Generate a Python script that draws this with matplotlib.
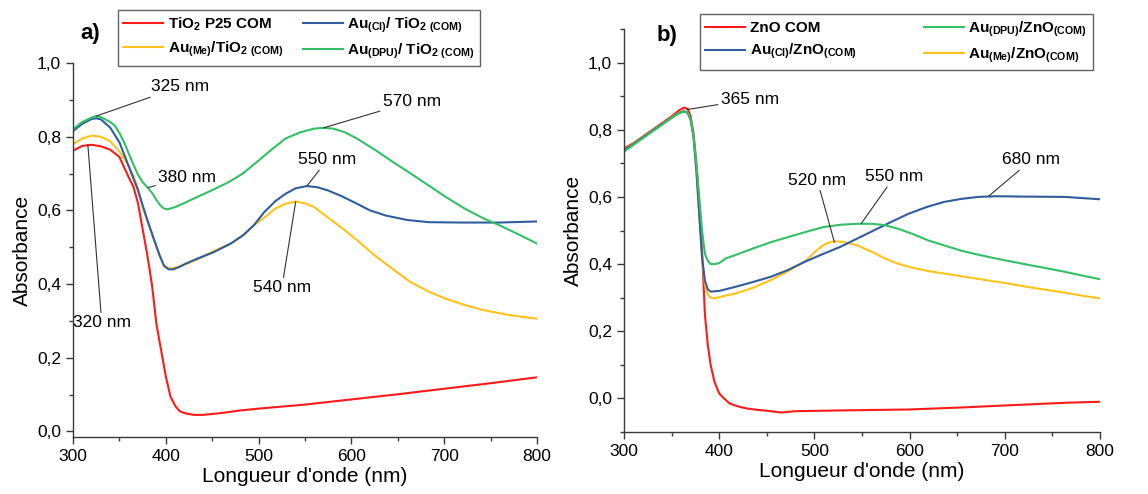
import matplotlib.pyplot as plt
import numpy as np
from matplotlib.ticker import MultipleLocator, FuncFormatter
from matplotlib.lines import Line2D

plt.rcParams['font.family'] = ['Liberation Sans', 'DejaVu Sans']
plt.rcParams['mathtext.default'] = 'regular'

# ---- panel a) TiO2 ----
wl_tio2 = [300, 310, 320, 330, 340, 350, 360, 365, 370, 375, 380, 385, 390, 395, 400, 405, 410, 415, 420,
           430, 440, 460, 480, 500, 550, 600, 650, 700, 750, 800]
abs_tio2 = [0.762, 0.775, 0.778, 0.774, 0.765, 0.745, 0.69, 0.665, 0.62, 0.55, 0.48, 0.40, 0.29, 0.22, 0.15,
            0.095, 0.07, 0.055, 0.05, 0.045, 0.045, 0.050, 0.057, 0.062, 0.073, 0.087, 0.101, 0.116, 0.131, 0.147]

wl_au_cl_tio2 = [300, 310, 320, 325, 330, 340, 350, 360, 370, 375, 380, 387, 393, 398, 403, 408, 415, 421, 435,
                 452, 470, 483, 495, 506, 518, 529, 540, 552, 563, 575, 590, 606, 620, 637, 660, 683, 720, 760, 800]
abs_au_cl_tio2 = [0.815, 0.835, 0.848, 0.85, 0.847, 0.825, 0.785, 0.72, 0.655, 0.614, 0.575, 0.523, 0.48, 0.45,
                  0.44, 0.44, 0.447, 0.455, 0.47, 0.487, 0.51, 0.532, 0.56, 0.595, 0.625, 0.645, 0.66, 0.666,
                  0.663, 0.654, 0.638, 0.618, 0.60, 0.586, 0.574, 0.568, 0.567, 0.567, 0.570]

wl_au_me_tio2 = [300, 310, 320, 330, 340, 350, 358, 364, 370, 375, 381, 387, 393, 398, 403, 408, 420, 435, 452,
                 470, 485, 495, 506, 518, 529, 540, 550, 560, 575, 591, 608, 625, 645, 664, 683, 702, 720, 741,
                 770, 800]
abs_au_me_tio2 = [0.78, 0.795, 0.803, 0.80, 0.788, 0.76, 0.73, 0.7, 0.66, 0.61, 0.565, 0.523, 0.48, 0.45,
                  0.443, 0.443, 0.452, 0.468, 0.49, 0.51, 0.535, 0.56, 0.58, 0.605, 0.618, 0.624, 0.619, 0.609,
                  0.58, 0.55, 0.515, 0.478, 0.44, 0.405, 0.38, 0.36, 0.345, 0.33, 0.316, 0.306]

wl_au_dpu_tio2 = [300, 310, 320, 325, 330, 340, 345, 350, 355, 360, 365, 370, 375, 380, 385, 390, 394, 398, 402,
                  410, 420, 437, 450, 468, 483, 498, 514, 529, 545, 560, 570, 580, 593, 606, 625, 645, 664, 683,
                  702, 722, 741, 760, 780, 800]
abs_au_dpu_tio2 = [0.82, 0.84, 0.852, 0.856, 0.853, 0.84, 0.83, 0.81, 0.785, 0.755, 0.725, 0.697, 0.677, 0.663,
                   0.648, 0.628, 0.614, 0.605, 0.603, 0.609, 0.62, 0.64, 0.655, 0.677, 0.70, 0.731, 0.765,
                   0.795, 0.812, 0.822, 0.824, 0.822, 0.812, 0.795, 0.765, 0.731, 0.70, 0.668, 0.636, 0.605,
                   0.58, 0.559, 0.535, 0.51]

# ---- panel b) ZnO ----
wl_zno = [300, 310, 320, 330, 340, 350, 358, 363, 367, 370, 373, 376, 379, 382, 385, 388, 391, 395, 400, 405,
          411, 420, 429, 440, 451, 465, 480, 501, 545, 599, 654, 708, 763, 800]
abs_zno = [0.745, 0.76, 0.78, 0.80, 0.82, 0.84, 0.858, 0.866, 0.862, 0.84, 0.79, 0.70, 0.58, 0.44, 0.25, 0.16,
           0.10, 0.05, 0.015, 0.0, -0.015, -0.024, -0.03, -0.034, -0.037, -0.042, -0.038, -0.037, -0.035,
           -0.033, -0.027, -0.02, -0.013, -0.01]

wl_au_dpu_zno = [300, 310, 320, 330, 340, 350, 358, 363, 367, 370, 373, 376, 379, 382, 385, 388, 391, 395, 400,
                 407, 420, 436, 454, 472, 490, 509, 527, 545, 560, 574, 588, 603, 620, 637, 654, 672, 690, 708,
                 726, 745, 763, 781, 800]
abs_au_dpu_zno = [0.735, 0.755, 0.775, 0.795, 0.815, 0.835, 0.85, 0.855, 0.85, 0.83, 0.78, 0.70, 0.60, 0.50,
                  0.43, 0.41, 0.40, 0.40, 0.403, 0.417, 0.43, 0.447, 0.465, 0.48, 0.495, 0.51, 0.517, 0.52,
                  0.52, 0.516, 0.505, 0.49, 0.47, 0.455, 0.44, 0.428, 0.417, 0.407, 0.397, 0.387, 0.377,
                  0.366, 0.355]

wl_au_cl_zno = [300, 310, 320, 330, 340, 350, 358, 363, 367, 370, 373, 376, 379, 382, 385, 388, 391, 400, 418,
                436, 454, 472, 490, 509, 527, 545, 563, 581, 599, 618, 636, 654, 672, 690, 720, 763, 800]
abs_au_cl_zno = [0.74, 0.757, 0.777, 0.797, 0.817, 0.836, 0.85, 0.855, 0.85, 0.83, 0.78, 0.68, 0.55, 0.42,
                 0.35, 0.325, 0.318, 0.32, 0.333, 0.347, 0.362, 0.382, 0.407, 0.43, 0.451, 0.476, 0.501,
                 0.526, 0.55, 0.57, 0.585, 0.594, 0.60, 0.602, 0.601, 0.60, 0.593]

wl_au_me_zno = [300, 310, 320, 330, 340, 350, 358, 363, 367, 370, 373, 376, 379, 382, 385, 388, 391, 395, 405,
                418, 436, 454, 470, 480, 490, 500, 509, 516, 523, 530, 545, 560, 574, 586, 599, 618, 636, 654,
                672, 690, 708, 726, 744, 763, 781, 800]
abs_au_me_zno = [0.742, 0.758, 0.778, 0.798, 0.818, 0.837, 0.851, 0.856, 0.851, 0.83, 0.78, 0.68, 0.55, 0.42,
                 0.34, 0.31, 0.30, 0.298, 0.305, 0.313, 0.33, 0.352, 0.375, 0.392, 0.407, 0.435, 0.456, 0.465,
                 0.468, 0.466, 0.456, 0.437, 0.417, 0.403, 0.392, 0.38, 0.372, 0.364, 0.356, 0.348, 0.34,
                 0.331, 0.323, 0.315, 0.306, 0.298]

red = '#ff1a1a'
blue = '#2f5d9e'
yellow = '#ffc21a'
green = '#33c065'
edge = '#3a3a3a'


def comma(v, pos):
    return ('%.1f' % v).replace('.', ',')


def style(ax):
    for s in ['top', 'right']:
        ax.spines[s].set_visible(False)
    for s in ['left', 'bottom']:
        ax.spines[s].set_color(edge)
        ax.spines[s].set_linewidth(1.0)
    ax.set_xlim(300, 800)
    ax.xaxis.set_major_locator(MultipleLocator(100))
    ax.xaxis.set_minor_locator(MultipleLocator(50))
    ax.yaxis.set_major_locator(MultipleLocator(0.2))
    ax.yaxis.set_minor_locator(MultipleLocator(0.1))
    ax.yaxis.set_major_formatter(FuncFormatter(comma))
    ax.tick_params(which='major', length=5, width=1, color=edge, labelsize=12.5, direction='out')
    ax.tick_params(which='minor', length=3, width=1, color=edge, direction='out')
    ax.set_xlabel("Longueur d'onde (nm)", fontsize=15, labelpad=2)
    ax.set_ylabel('Absorbance', fontsize=15, labelpad=4)


def note(ax, txt, xy, xyt):
    ax.annotate(txt, xy=xy, xytext=xyt, textcoords='data', ha='center', va='center', fontsize=12.5,
                annotation_clip=False,
                arrowprops=dict(arrowstyle='-', color='#333333', lw=0.8, shrinkA=0, shrinkB=0))


fig = plt.figure(figsize=(11.48, 4.94), dpi=100)
ax1 = fig.add_axes([73 / 1148, 57 / 494, 464 / 1148, 374 / 494])
ax2 = fig.add_axes([624 / 1148, 62 / 494, 476 / 1148, 403 / 494])

lw = 1.5
ax1.plot(wl_tio2, abs_tio2, color=red, lw=lw)
ax1.plot(wl_au_me_tio2, abs_au_me_tio2, color=yellow, lw=lw)
ax1.plot(wl_au_cl_tio2, abs_au_cl_tio2, color=blue, lw=lw)
ax1.plot(wl_au_dpu_tio2, abs_au_dpu_tio2, color=green, lw=lw)
style(ax1)
ax1.set_ylim(-0.015, 1.0)

note(ax1, '325 nm', (325, 0.856), (415, 0.935))
note(ax1, '570 nm', (570, 0.824), (665, 0.895))
note(ax1, '380 nm', (381, 0.662), (423, 0.69))
note(ax1, '550 nm', (552, 0.666), (574, 0.737))
note(ax1, '540 nm', (540, 0.624), (525, 0.39))
note(ax1, '320 nm', (316, 0.778), (331, 0.295))

ax2.plot(wl_zno, abs_zno, color=red, lw=lw)
ax2.plot(wl_au_me_zno, abs_au_me_zno, color=yellow, lw=lw)
ax2.plot(wl_au_cl_zno, abs_au_cl_zno, color=blue, lw=lw)
ax2.plot(wl_au_dpu_zno, abs_au_dpu_zno, color=green, lw=lw)
style(ax2)
ax2.set_ylim(-0.1, 1.1)

note(ax2, '365 nm', (366, 0.86), (432, 0.89))
note(ax2, '680 nm', (683, 0.602), (728, 0.71))
note(ax2, '550 nm', (549, 0.52), (584, 0.66))
note(ax2, '520 nm', (521, 0.465), (503, 0.65))

# legends
leg_a_labels = ['TiO$_2$ P25 COM', 'Au$_{(Me)}$/TiO$_{2\\ (COM)}$',
                'Au$_{(Cl)}$/ TiO$_{2\\ (COM)}$', 'Au$_{(DPU)}$/ TiO$_{2\\ (COM)}$']
leg_a_colors = [red, yellow, blue, green]
leg_b_labels = ['ZnO COM', 'Au$_{(Cl)}$/ZnO$_{(COM)}$',
                'Au$_{(DPU)}$/ZnO$_{(COM)}$', 'Au$_{(Me)}$/ZnO$_{(COM)}$']
leg_b_colors = [red, blue, green, yellow]

for ax, labels, colors, anchor, cs in [(ax1, leg_a_labels, leg_a_colors, (118 / 1148, 1 - 10 / 494), 1.3),
                                       (ax2, leg_b_labels, leg_b_colors, (700 / 1148, 1 - 14 / 494), 4.4)]:
    handles = [Line2D([], [], color=c, lw=1.5) for c in colors]
    leg = ax.legend(handles, labels, ncol=2, loc='upper left', bbox_to_anchor=anchor,
                    bbox_transform=fig.transFigure, frameon=True, fancybox=False,
                    prop={'weight': 'bold', 'size': 11}, handlelength=2.6, handletextpad=0.3,
                    columnspacing=cs, labelspacing=0.45, borderpad=0.35, borderaxespad=0)
    leg.get_frame().set_edgecolor(edge)
    leg.get_frame().set_linewidth(1.0)

fig.text(90 / 1148, 1 - 33 / 494, 'a)', fontsize=16, fontweight='bold', ha='center', va='center')
fig.text(667 / 1148, 1 - 35 / 494, 'b)', fontsize=16, fontweight='bold', ha='center', va='center')

plt.savefig('out.png', dpi=100)
